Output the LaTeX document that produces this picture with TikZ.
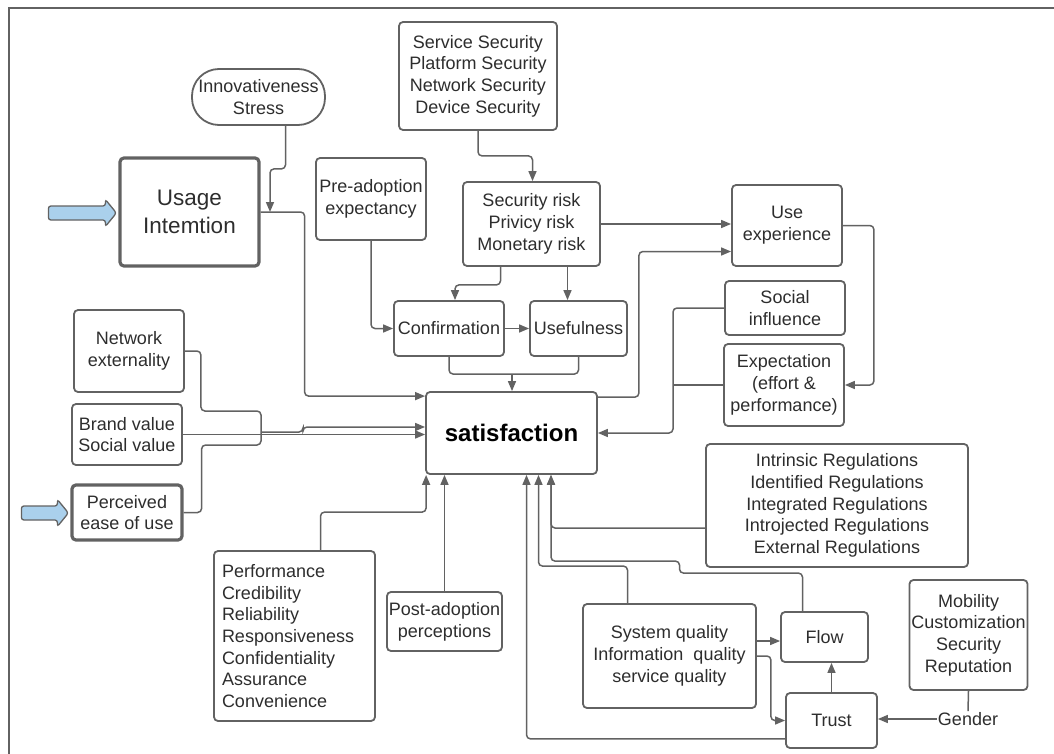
\documentclass[tikz,border=0pt]{standalone}
\usepackage{fontspec}
\setmainfont{Liberation Sans}
\usetikzlibrary{arrows.meta, calc}
\definecolor{lineGray}{RGB}{98,98,98}
\definecolor{textGray}{RGB}{45,45,45}
\definecolor{entryBlue}{RGB}{170,208,236}

% blue input arrow: #1 tip coordinate, #2 overall length
\newcommand{\entryarrow}[2]{%
  \draw[entry] ($#1+(-#2,-7)$) -- ($#1+(-11,-7)$) -- ($#1+(-11,-13.5)$) -- #1
    -- ($#1+(-11,13.5)$) -- ($#1+(-11,7)$) -- ($#1+(-#2,7)$) -- cycle;}

\begin{document}
\begin{tikzpicture}[
    x=1pt, y=-1pt,
    box/.style={rectangle, rounded corners=4pt, draw=lineGray, line width=1.8pt, align=center, inner sep=2pt, text=textGray, font=\fontsize{18}{21.7}\selectfont},
    heavybox/.style={box, line width=3.2pt},
    pill/.style={box, rounded corners=27pt},
    link/.style={draw=lineGray, line width=1.5pt, rounded corners=4pt},
    arrow/.style={link, -{Triangle[length=10pt, width=8pt]}},
    entry/.style={draw=lineGray, line width=1.3pt, fill=entryBlue, rounded corners=2.5pt},
    frame/.style={draw=lineGray, line width=2.6pt}
]
    \useasboundingbox (0,0) rectangle (1054,754);
    \clip (0,0) rectangle (1054,754);
    \draw[frame] (9,8) rectangle (1090,790);

    % Top row
    \node[pill, minimum width=133pt, minimum height=56pt] (innov) at (258.5,97) {Innovativeness\\Stress};
    \node[heavybox, minimum width=139pt, minimum height=108pt, font=\fontsize{22.5}{27.5}\selectfont] (usage) at (189.5,212) {Usage\\Intemtion};
    \node[box, minimum width=110pt, minimum height=82pt] (pre) at (371,199) {Pre-adoption\\expectancy};
    \node[box, minimum width=158pt, minimum height=108pt] (serv) at (478,76) {Service Security\\Platform Security\\Network Security\\Device Security};
    \node[box, minimum width=137pt, minimum height=84pt] (risk) at (531.5,224) {Security risk\\Privicy risk\\Monetary risk};
    \node[box, minimum width=110pt, minimum height=81pt] (use) at (787,225.5) {Use\\experience};

    % Middle row
    \node[box, minimum width=110pt, minimum height=55pt] (conf) at (449,328.5) {Confirmation};
    \node[box, minimum width=97pt, minimum height=55pt] (useful) at (578.5,328.5) {Usefulness};
    \node[box, minimum width=120pt, minimum height=54pt] (social) at (785,308) {Social\\influence};
    \node[box, minimum width=120pt, minimum height=82pt] (expect) at (784,385) {Expectation\\(effort \&\\performance)};
    \node[box, minimum width=110pt, minimum height=82pt] (net) at (129,351) {Network\\externality};
    \node[box, minimum width=110pt, minimum height=61pt] (brand) at (127,434.5) {Brand value\\Social value};
    \node[heavybox, minimum width=110pt, minimum height=55pt] (pe) at (127,512.5) {Perceived\\ease of use};
    \node[box, minimum width=171pt, minimum height=82pt, text=black, font=\fontsize{24}{28}\selectfont\bfseries] (sat) at (511.5,433) {satisfaction};

    % Bottom row
    \node[box, minimum width=262pt, minimum height=123pt] (reg) at (837,505.5) {Intrinsic Regulations\\Identified Regulations\\Integrated Regulations\\Introjected Regulations\\External Regulations};
    \node[box, minimum width=161pt, minimum height=170pt, text width=145pt, align=left] (perf) at (294.5,636) {Performance\\Credibility\\Reliability\\Responsiveness\\Confidentiality\\Assurance\\Convenience};
    \node[box, minimum width=115pt, minimum height=59pt] (post) at (444.5,621.5) {Post-adoption\\perceptions};
    \node[box, minimum width=173pt, minimum height=104pt] (sysq) at (669.5,656) {System quality\\Information~~quality\\service quality};
    \node[box, minimum width=87pt, minimum height=50pt] (flow) at (824.5,637) {Flow};
    \node[box, minimum width=91pt, minimum height=55pt] (trust) at (831.5,720.5) {Trust};
    \node[box, minimum width=113pt, minimum height=110pt] (mob) at (968.5,635) {Mobility\\Customization\\Security\\Reputation};
    \node[text=textGray, inner sep=1pt, font=\fontsize{18}{21.7}\selectfont] (gender) at (968,719) {Gender};

    % Input arrows
    \coordinate (usageTip) at ($(usage.west)+(-2,1)$);
    \coordinate (peTip) at ($(pe.west)+(-2,0.5)$);
    \entryarrow{(usageTip)}{68}
    \entryarrow{(peTip)}{47}

    % Helper points
    \coordinate (usageJoin) at (270,212);
    \coordinate (joinTop) at (512,374);
    \coordinate (rightBus) at (673,433);
    \coordinate (leftBus) at (261,432);
    \coordinate (cN) at ($(conf.north)+(6,0)$);
    \coordinate (uN) at ($(useful.north)+(-11,0)$);
    \coordinate (uW2) at ($(use.west)+(0,26)$);
    \coordinate (sb1) at ($(sat.south)+(15,0)$);
    \coordinate (sb2) at ($(sat.south)+(27,0)$);
    \coordinate (sb3) at ($(sat.south)+(39.5,0)$);
    \coordinate (sqA) at ($(sysq.east)+(0,-15)$);

    % Arrows - top part
    \draw[arrow] (usage.east) -- ++(44,0) |- ($(sat.north west)+(0,5)$);
    \draw[arrow] ($(innov.south)+(27,0)$) -- ++(0,43) -| (usageJoin);
    \draw[arrow] (pre.south) |- (conf.west);
    \draw[arrow] (serv.south) -- ++(0,25) -| ($(risk.north)+(1,0)$);
    \draw[arrow] (risk.east) -- (risk.east -| use.west);
    \draw[arrow] ($(risk.south)+(-31,0)$) -- ++(0,18) -| (cN);
    \draw[arrow] (risk.south -| uN) -- (uN);
    \draw[arrow] (conf.east) -- (useful.west);
    \draw[link] (conf.south) |- (joinTop) -| (useful.south);
    \draw[arrow] (joinTop) -- (joinTop |- sat.north);
    \draw[arrow] ($(sat.north east)+(0,6)$) -- ++(41,0) |- (uW2);

    % Arrows - right side
    \draw[arrow] (use.east) -- ++(31,0) |- (expect.east);
    \draw[arrow] (social.west) -| (rightBus) -- (rightBus -| sat.east);
    \draw[link] (expect.west) -- (expect.west -| rightBus);

    % Arrows - left side
    \draw[link] (net.east) -- ++(16,0) |- (leftBus |- 0,411) -- (leftBus);
    \draw[link] (pe.east) -- ++(18,0) |- (leftBus |- 0,445) -- (leftBus);
    \draw[arrow] (leftBus) -- (303,432) |- ($(sat.west)+(0,-6)$);
    \draw[arrow] (brand.east) -- (brand.east -| sat.west);

    % Arrows - bottom part
    \draw[arrow] ($(perf.north)+(26,0)$) -- ++(0,-38) -| ($(sat.south west)+(1,0)$);
    \draw[arrow] (post.north) -- (post.north |- sat.south);
    \draw[arrow] ($(trust.south west)+(0,-10)$) -| (sb1);
    \draw[arrow] ($(sysq.north)+(-42,0)$) -- ++(0,-37) -| (sb2);
    \draw[arrow] ($(reg.west)+(0,22.5)$) -| (sb3);
    \draw[arrow] ($(flow.north)+(-22,0)$) -- ++(0,-38) -- ++(-123,0) -- ++(0,-12) -| (sb3);
    \draw[arrow] (sqA) -- (sqA -| flow.west);
    \draw[arrow] (sysq.east) -- ++(14,0) |- (trust.west);
    \draw[arrow] (trust.north) -- (trust.north |- flow.south);
    \draw[arrow] (gender.west) -- (gender.west -| trust.east);
    \draw[link] (mob.south) -- (gender.north);
\end{tikzpicture}
\end{document}
